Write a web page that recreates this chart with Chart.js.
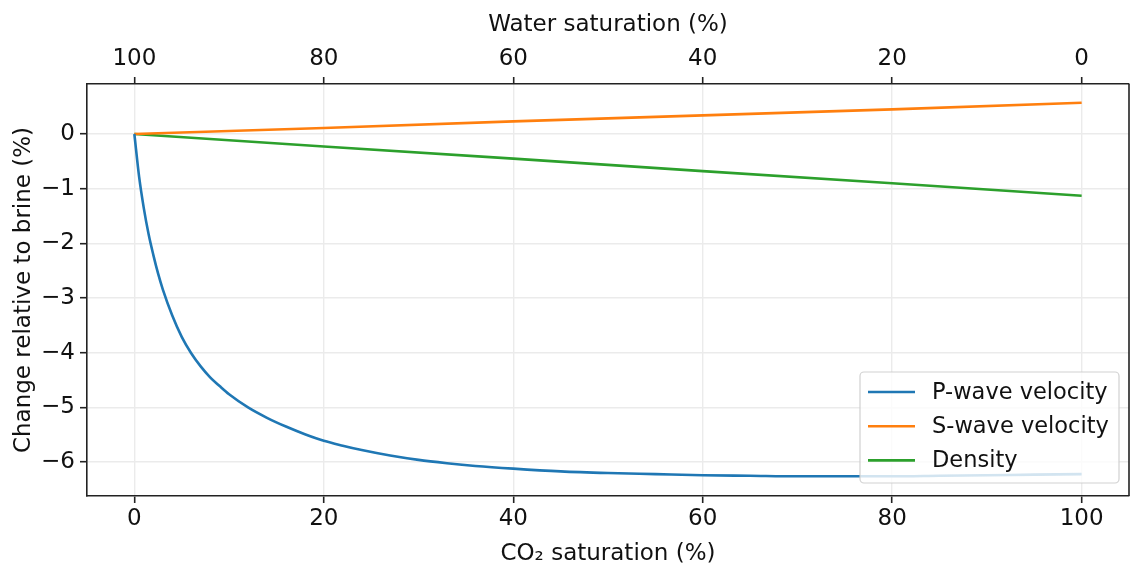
<!DOCTYPE html>
<html>
<head>
<meta charset="utf-8">
<script src="https://cdn.jsdelivr.net/npm/chart.js@4.4.1/dist/chart.umd.min.js"></script>
<style>
  html, body { margin: 0; padding: 0; background: #fff; }
  #wrap { width: 1135px; height: 581px; position: relative; }
</style>
</head>
<body>
<div id="wrap"><canvas id="satChart"></canvas></div>
<script>
// Axis ticks
const co2Ticks = [0, 20, 40, 60, 80, 100];
const waterTicks = [100, 80, 60, 40, 20, 0];
const changeTicks = [0, -1, -2, -3, -4, -5, -6];

// P-wave velocity change vs CO2 saturation
const pSat = [0, 0.5, 1, 1.5, 2, 2.5, 3, 4, 5, 6, 7, 8, 9, 10, 12, 14, 16, 18, 20,
              22, 24, 27, 30, 33, 36, 40, 45, 50, 55, 60, 65, 70, 75, 80, 85, 90, 95, 100];
const pWave = [0, -0.78, -1.36, -1.83, -2.21, -2.55, -2.84, -3.32, -3.71, -4.01, -4.25, -4.45, -4.61, -4.76, -5.00, -5.19, -5.35, -5.49, -5.61,
               -5.70, -5.78, -5.88, -5.96, -6.02, -6.07, -6.12, -6.17, -6.20, -6.22, -6.24, -6.25, -6.26, -6.26, -6.26, -6.25, -6.24, -6.23, -6.22];

// S-wave velocity and density change
const lineSat = [0, 20, 40, 60, 80, 100];
const sWave = [0, 0.11, 0.23, 0.34, 0.45, 0.57];
const density = [0, -0.23, -0.45, -0.68, -0.90, -1.13];

const FONT = 'DejaVu Sans';
const FONT_SIZE = 23;
const toPoints = (xs, ys) => xs.map((x, i) => ({ x: x, y: ys[i] }));
const minus = v => String(v).replace('-', '\u2212');

// legend box drawn over the lines, plus the right spine
const legendBox = {
    id: 'legendBox',
    afterDatasetsDraw(chart) {
        const ctx = chart.ctx;
        const area = chart.chartArea;

        ctx.save();
        ctx.strokeStyle = '#222';
        ctx.lineWidth = 1.6;
        ctx.beginPath();
        ctx.moveTo(area.right, area.top);
        ctx.lineTo(area.right, area.bottom);
        ctx.stroke();

        const w = 259, h = 111;
        const x = area.right - 10 - w;
        const y = area.bottom - 13 - h;
        ctx.beginPath();
        ctx.roundRect(x, y, w, h, 4);
        ctx.fillStyle = 'rgba(255,255,255,0.8)';
        ctx.fill();
        ctx.strokeStyle = 'rgba(204,204,204,0.9)';
        ctx.lineWidth = 1.2;
        ctx.stroke();

        ctx.font = (FONT_SIZE - 0.5) + 'px "' + FONT + '"';
        ctx.textBaseline = 'middle';
        ctx.textAlign = 'left';
        chart.data.datasets.forEach((ds, i) => {
            const ly = y + 20 + i * 34.2;
            ctx.strokeStyle = ds.borderColor;
            ctx.lineWidth = 2.6;
            ctx.beginPath();
            ctx.moveTo(x + 8, ly);
            ctx.lineTo(x + 55, ly);
            ctx.stroke();
            ctx.fillStyle = '#111';
            ctx.fillText(ds.label, x + 72, ly + 1);
        });
        ctx.restore();
    }
};

const tickFont = { family: FONT, size: FONT_SIZE };
const gridStyle = {
    color: '#ebebeb',
    lineWidth: 1.4,
    tickColor: '#222',
    tickWidth: 1.6,
    tickLength: 7
};

new Chart(document.getElementById('satChart'), {
    type: 'line',
    data: {
        datasets: [
            {
                label: 'P-wave velocity',
                data: toPoints(pSat, pWave),
                borderColor: '#1f77b4',
                borderWidth: 2.6,
                pointRadius: 0,
                cubicInterpolationMode: 'monotone'
            },
            {
                label: 'S-wave velocity',
                data: toPoints(lineSat, sWave),
                borderColor: '#ff7f0e',
                borderWidth: 2.6,
                pointRadius: 0
            },
            {
                label: 'Density',
                data: toPoints(lineSat, density),
                borderColor: '#2ca02c',
                borderWidth: 2.6,
                pointRadius: 0
            }
        ]
    },
    options: {
        responsive: true,
        maintainAspectRatio: false,
        animation: false,
        layout: { padding: { left: 0, right: 6, top: 0, bottom: 0 } },
        plugins: {
            legend: { display: false },
            tooltip: { enabled: false }
        },
        scales: {
            x: {
                type: 'linear',
                position: 'bottom',
                min: -5,
                max: 105,
                afterBuildTicks: axis => { axis.ticks = co2Ticks.map(v => ({ value: v })); },
                afterFit: axis => { axis.height = 85; },
                grid: gridStyle,
                border: { color: '#222', width: 1.6 },
                ticks: { color: '#111', font: tickFont, padding: 2, maxRotation: 0 },
                title: {
                    display: true,
                    text: 'CO\u2082 saturation (%)',
                    color: '#111',
                    font: tickFont,
                    padding: { top: 0, bottom: 13 }
                }
            },
            x2: {
                type: 'linear',
                position: 'top',
                min: -5,
                max: 105,
                reverse: true,
                afterBuildTicks: axis => { axis.ticks = waterTicks.map(v => ({ value: v })); },
                afterFit: axis => { axis.height = 84; },
                grid: Object.assign({}, gridStyle, { drawOnChartArea: false }),
                border: { color: '#222', width: 1.6 },
                ticks: { color: '#111', font: tickFont, padding: 4, maxRotation: 0 },
                title: {
                    display: true,
                    text: 'Water saturation (%)',
                    color: '#111',
                    font: tickFont,
                    padding: { top: 11, bottom: 0 }
                }
            },
            y: {
                min: -6.62,
                max: 0.914,
                afterBuildTicks: axis => { axis.ticks = changeTicks.map(v => ({ value: v })); },
                afterFit: axis => { axis.width = 87; },
                grid: gridStyle,
                border: { color: '#222', width: 1.6 },
                ticks: {
                    color: '#111',
                    font: tickFont,
                    padding: 5,
                    callback: v => minus(v)
                },
                title: {
                    display: true,
                    text: 'Change relative to brine (%)',
                    color: '#111',
                    font: tickFont,
                    padding: { top: 10, bottom: 0 }
                }
            }
        }
    },
    plugins: [legendBox]
});
</script>
</body>
</html>
